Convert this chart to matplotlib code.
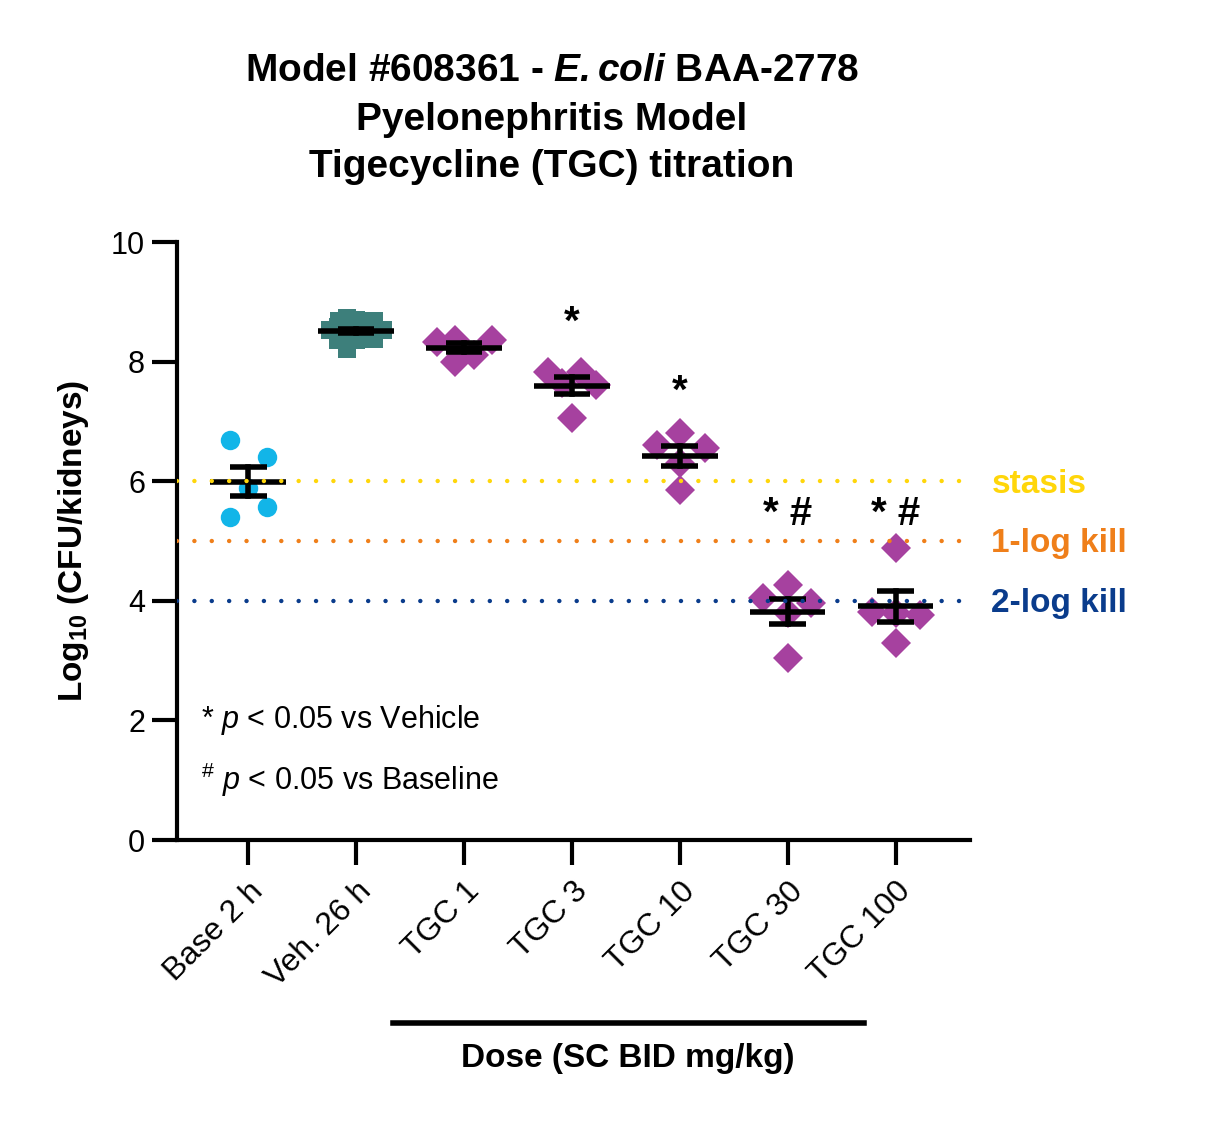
import matplotlib.pyplot as plt
from matplotlib.path import Path
import numpy as np

plt.rcParams['font.family'] = ['Liberation Sans', 'DejaVu Sans']
plt.rcParams['mathtext.fontset'] = 'custom'
plt.rcParams['mathtext.rm'] = 'Liberation Sans'
plt.rcParams['mathtext.it'] = 'Liberation Sans:italic'
plt.rcParams['mathtext.bf'] = 'Liberation Sans:bold'
plt.rcParams['mathtext.bfit'] = 'Liberation Sans:bold:italic'

# groups and individual animal values (log10 CFU/kidneys)
groups = ['Base 2 h', 'Veh. 26 h', 'TGC 1', 'TGC 3', 'TGC 10', 'TGC 30', 'TGC 100']
base_vals = [6.69, 6.40, 5.89, 5.57, 5.40]
veh_vals = [8.58, 8.36, 8.53, 8.53, 8.55]
tgc1_vals = [8.33, 8.36, 7.99, 8.11, 8.36]
tgc3_vals = [7.83, 7.83, 7.64, 7.61, 7.06]
tgc10_vals = [6.81, 6.61, 6.55, 6.30, 5.85]
tgc30_vals = [4.26, 4.04, 3.96, 3.80, 3.04]
tgc100_vals = [4.88, 3.81, 3.80, 3.76, 3.29]

# horizontal scatter offsets of the points within each column
base_jit = [-0.17, 0.17, 0.0, 0.17, -0.17]
veh_jit = [-0.08, -0.08, -0.16, 0.17, 0.0]
tgc1_jit = [-0.25, -0.08, -0.08, 0.09, 0.26]
tgc3_jit = [-0.22, 0.08, -0.09, 0.22, 0.0]
tgc10_jit = [0.0, -0.21, 0.23, 0.0, 0.0]
tgc30_jit = [0.0, -0.23, 0.22, 0.0, 0.0]
tgc100_jit = [0.0, -0.22, 0.0, 0.23, 0.0]

sig_marks = ['', '', '', '*', '*', '* #', '* #']
sig_y = [0, 0, 0, 8.65, 7.5, 5.45, 5.45]

ref_levels = [6, 5, 4]
ref_labels = ['stasis', '1-log kill', '2-log kill']
ref_colors = ['#FFD60A', '#EF7F1A', '#0A3C8C']

# thick plus marker like the vehicle group symbol
a = 0.25
plus = Path([(-a, 0.5), (a, 0.5), (a, a), (0.5, a), (0.5, -a), (a, -a), (a, -0.5),
             (-a, -0.5), (-a, -a), (-0.5, -a), (-0.5, a), (-a, a), (-a, 0.5)])

all_vals = [base_vals, veh_vals, tgc1_vals, tgc3_vals, tgc10_vals, tgc30_vals, tgc100_vals]
all_jit = [base_jit, veh_jit, tgc1_jit, tgc3_jit, tgc10_jit, tgc30_jit, tgc100_jit]
markers = ['o', plus, 'D', 'D', 'D', 'D', 'D']
colors = ['#12B5E8', '#3D7F7B', '#A6419F', '#A6419F', '#A6419F', '#A6419F', '#A6419F']
msizes = [14, 26, 15, 15, 15, 15, 15]

fig = plt.figure(figsize=(12.13, 11.23), dpi=100)
ax = fig.add_axes([0.1459, 0.252, 0.6538, 0.5325])

for i, (vals, jit) in enumerate(zip(all_vals, all_jit)):
    vals = np.array(vals)
    x = i + np.array(jit)
    ax.plot(x, vals, linestyle='none', marker=markers[i], color=colors[i],
            ms=msizes[i], mew=0, zorder=2)
    m = vals.mean()
    sem = vals.std(ddof=1) / np.sqrt(len(vals))
    ax.plot([i - 0.35, i + 0.35], [m, m], color='black', lw=4, zorder=3,
            solid_capstyle='butt')
    ax.plot([i, i], [m - sem, m + sem], color='black', lw=4, zorder=3)
    for v in (m - sem, m + sem):
        ax.plot([i - 0.17, i + 0.17], [v, v], color='black', lw=4, zorder=3,
                solid_capstyle='butt')
    if sig_marks[i]:
        ax.text(i, sig_y[i], sig_marks[i], ha='center', va='center',
                fontsize=29, fontweight='bold')

for lev, lab, c in zip(ref_levels, ref_labels, ref_colors):
    ax.plot([-0.66, 6.69], [lev, lev], color=c, lw=3.2,
            linestyle=(0, (0.01, 3.9)), dash_capstyle='round', zorder=4)
    ax.text(1.027, lev - 0.05, lab, transform=ax.get_yaxis_transform(), color=c,
            fontsize=24, fontweight='bold', va='center', ha='left', clip_on=False)

ax.set_xlim(-0.66, 6.69)
ax.set_ylim(0, 10)
ax.set_yticks([0, 2, 4, 6, 8, 10])
ax.set_xticks(range(len(groups)))
ax.set_xticklabels(groups, rotation=45, ha='right', rotation_mode='anchor')
ax.tick_params(axis='both', width=3, length=18, labelsize=22, direction='out')
ax.tick_params(axis='x', pad=8, labelsize=23)
ax.tick_params(axis='y', pad=5)
for s in ['top', 'right']:
    ax.spines[s].set_visible(False)
for s in ['left', 'bottom']:
    ax.spines[s].set_linewidth(3)

ax.set_ylabel(r'Log$_{\mathbf{10}}$ (CFU/kidneys)', fontsize=24, fontweight='bold', labelpad=14)

ax.text(0.03, 2.0, r'* $\it{p}$ < 0.05 vs Vehicle', transform=ax.get_yaxis_transform(),
        fontsize=22, va='center')
ax.text(0.03, 1.0, r'$^{\#}$ $\it{p}$ < 0.05 vs Baseline', transform=ax.get_yaxis_transform(),
        fontsize=22, va='center')

# dose bracket under TGC groups
fig.add_artist(plt.Line2D([393 / 1213, 864 / 1213], [1 - 1023 / 1123] * 2,
                          color='black', lw=4))
fig.text(628 / 1213, 1 - 1058 / 1123, 'Dose (SC BID mg/kg)', ha='center', va='center',
         fontsize=24, fontweight='bold')

fig.text(552 / 1213, 1 - 71 / 1123, r'Model #608361 - $\mathbfit{E. coli}$ BAA-2778',
         ha='center', va='center', fontsize=28, fontweight='bold')
fig.text(552 / 1213, 1 - 120 / 1123, 'Pyelonephritis Model',
         ha='center', va='center', fontsize=28, fontweight='bold')
fig.text(552 / 1213, 1 - 167 / 1123, 'Tigecycline (TGC) titration',
         ha='center', va='center', fontsize=28, fontweight='bold')

fig.savefig('out.png', dpi=100)
